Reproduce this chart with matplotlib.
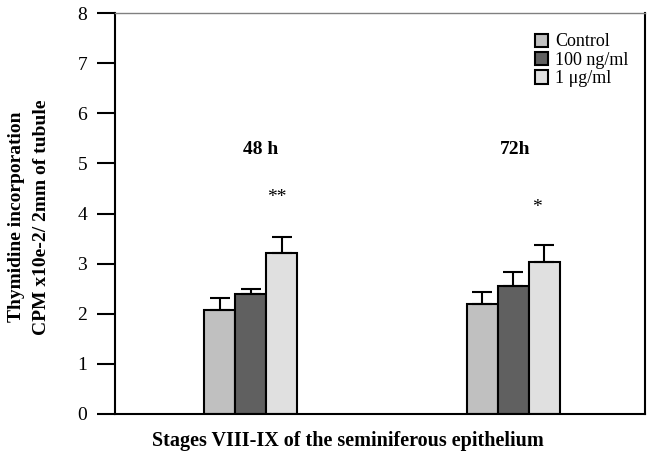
import matplotlib
matplotlib.use("Agg")
import matplotlib.pyplot as plt
from matplotlib.patches import Patch
import numpy as np

plt.rcParams['font.family'] = ['Liberation Serif', 'DejaVu Serif']

groups = ["48 h", "72h"]
series = ["Control", "100 ng/ml", "1 \u03bcg/ml"]
values = {
    "Control":   [2.08, 2.19],
    "100 ng/ml": [2.40, 2.55],
    "1 \u03bcg/ml": [3.21, 3.04],
}
errors = {
    "Control":   [0.24, 0.24],
    "100 ng/ml": [0.10, 0.29],
    "1 \u03bcg/ml": [0.33, 0.34],
}
significance = ["**", "*"]

colors = ["#c0c0c0", "#606060", "#e0e0e0"]
centers = np.array([0.256, 0.751])
width = 0.0585

fig = plt.figure(figsize=(6.48, 4.57), dpi=100)
ax = fig.add_axes([115/648, 43/457, 530/648, 401/457])

for i, name in enumerate(series):
    x = centers + (i - 1) * width
    ax.bar(x, values[name], width=width, color=colors[i], edgecolor="black",
           linewidth=1.5, zorder=2)
    ax.errorbar(x, values[name], yerr=[np.zeros(2), errors[name]], fmt="none",
                ecolor="black", elinewidth=1.5, capsize=7.5, capthick=1.5, zorder=3)

# group labels and significance marks
ax.text(centers[0] + 0.019, 5.28, groups[0], ha="center", va="center",
        fontsize=14, fontweight="bold")
ax.text(centers[1] + 0.004, 5.28, groups[1], ha="center", va="center",
        fontsize=14, fontweight="bold")
ax.text(centers[0] + width - 0.010, 4.32, significance[0], ha="center",
        va="center", fontsize=14)
ax.text(centers[1] + width - 0.014, 4.12, significance[1], ha="center",
        va="center", fontsize=14)

ax.set_xlim(0, 1)
ax.set_ylim(0, 8)
ax.set_xticks([])
ax.set_yticks(range(0, 9))
ax.tick_params(axis="y", direction="out", length=13, width=1.5, labelsize=14,
               pad=7)
for side in ["left", "bottom", "right"]:
    ax.spines[side].set_linewidth(1.5)
    ax.spines[side].set_color("black")
ax.spines["top"].set_linewidth(1.0)
ax.spines["top"].set_color("#808080")

fig.text(29/648, 1 - 217/457,
         "Thymidine incorporation\nCPM x10e-2/ 2mm of tubule",
         rotation=90, ha="center", va="center", fontsize=14,
         fontweight="bold", linespacing=1.65)
fig.text(348/648, 1 - 441/457, "Stages VIII-IX of the seminiferous epithelium",
         ha="center", va="center", fontsize=14.5, fontweight="bold")

handles = [Patch(facecolor=c, edgecolor="black", linewidth=1.5) for c in colors]
ax.legend(handles, series, loc="upper right", bbox_to_anchor=(0.983, 0.967),
          frameon=False, fontsize=13, handlelength=0.75, handleheight=0.75,
          handletextpad=0.4, labelspacing=0.08, borderaxespad=0)

fig.savefig("out.png", dpi=100)
